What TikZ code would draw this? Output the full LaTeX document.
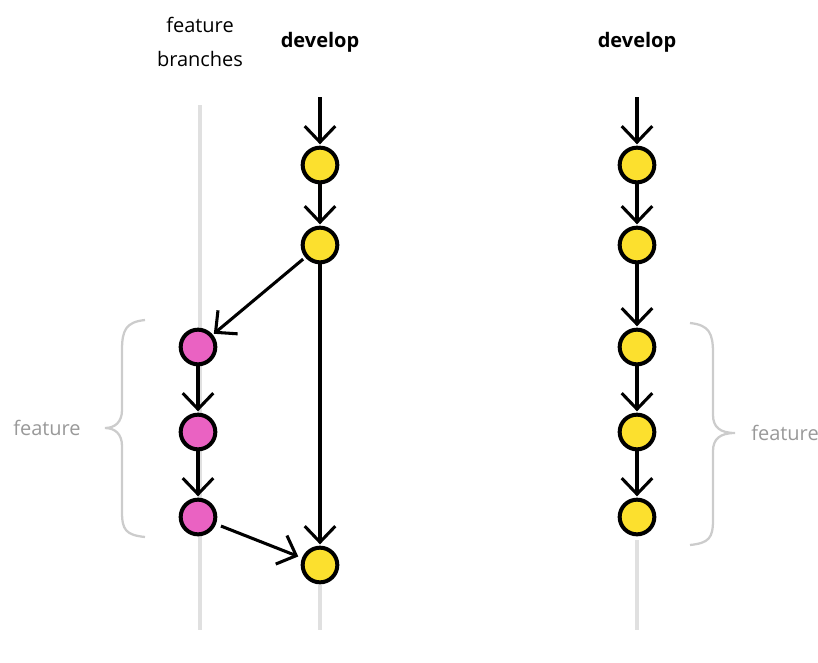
\documentclass[tikz,border=0pt]{standalone}
\usepackage{fontspec}
\setmainfont{Open Sans}
\usetikzlibrary{arrows.meta,positioning}
\definecolor{devyellow}{HTML}{FCE02E}
\definecolor{featpink}{HTML}{EA62C2}
\definecolor{lanegray}{HTML}{E0E0E0}
\definecolor{bracegray}{HTML}{CCCCCC}
\definecolor{textgray}{HTML}{999999}
\tikzset{
  commit/.style={circle,draw=black,line width=3pt,minimum size=26pt,inner sep=0pt},
  dev/.style={commit,fill=devyellow},
  feat/.style={commit,fill=featpink},
  flow/.style={line width=2.3pt,shorten >=1pt,-{Straight Barb[length=12pt,width=23pt,line width=2.3pt]}},
  lane/.style={line width=3.6pt,draw=lanegray},
  curly/.style={line width=1.7pt,draw=bracegray},
  lbl/.style={font=\fontsize{15}{25}\selectfont,align=center},
}
\begin{document}
\begin{tikzpicture}[x=0.75pt,y=-0.75pt]
  \useasboundingbox (0,0) rectangle (818,662);
  \pgfmathsetmacro{\fx}{198}  %feature lane
  \pgfmathsetmacro{\dx}{320}  %develop lane, left
  \pgfmathsetmacro{\rx}{637}  %develop lane, right

  %Lanes in the background
  \draw[lane] (\fx+2,105) -- (\fx+2,630);
  \draw[lane] (\dx,585) -- (\dx,630);
  \draw[lane] (\rx,540) -- (\rx,630);

  %Headings
  \node[lbl] (hfeat) at (\fx+2,42) {feature\\branches};
  \node[lbl,font=\fontsize{15}{25}\selectfont\bfseries] (hdev) at (\dx,42) {develop};
  \node[lbl,font=\fontsize{15}{25}\selectfont\bfseries] (hdevr) at (\rx,42) {develop};

  %Left: develop with a feature branch
  \coordinate (ltop) at (\dx,97);
  \node[dev] (d1) at (\dx,165) {};
  \node[dev] (d2) at (\dx,245) {};
  \node[feat] (f1) at (\fx,347) {};
  \node[feat] (f2) at (\fx,432) {};
  \node[feat] (f3) at (\fx,517) {};
  \node[dev] (d3) at (\dx,565) {};
  \draw[flow] (ltop) -- (d1);
  \draw[flow] (d1) -- (d2);
  \draw[flow,shorten <=2pt] (d2) -- (f1);
  \draw[flow] (f1) -- (f2);
  \draw[flow] (f2) -- (f3);
  \draw[flow] (d2) -- (d3);
  \draw[flow,shorten <=4pt,shorten >=3pt] (f3) -- (d3);

  %Right: develop after the merge
  \coordinate (rtop) at (\rx,97);
  \node[dev] (r1) at (\rx,165) {};
  \node[dev] (r2) at (\rx,245) {};
  \node[dev] (r3) at (\rx,347) {};
  \node[dev] (r4) at (\rx,432) {};
  \node[dev] (r5) at (\rx,517) {};
  \draw[flow] (rtop) -- (r1);
  \draw[flow] (r1) -- (r2);
  \draw[flow] (r2) -- (r3);
  \draw[flow] (r3) -- (r4);
  \draw[flow] (r4) -- (r5);

  %Braces
  \draw[curly] (145,320) .. controls (126,322) and (122,330) .. (122,350) -- (122,410)
    .. controls (122,422) and (115,428) .. (105,428)
    .. controls (115,428) and (122,434) .. (122,446) -- (122,512)
    .. controls (122,530) and (126,535) .. (145,537);
  \draw[curly] (690,323) .. controls (709,325) and (713,333) .. (713,353) -- (713,415)
    .. controls (713,427) and (720,433) .. (735,433)
    .. controls (720,433) and (713,439) .. (713,451) -- (713,520)
    .. controls (713,538) and (709,543) .. (690,545);
  \node[lbl,text=textgray] (bfeat) at (47,428) {feature};
  \node[lbl,text=textgray] (bfeatr) at (785,433) {feature};
\end{tikzpicture}
\end{document}
